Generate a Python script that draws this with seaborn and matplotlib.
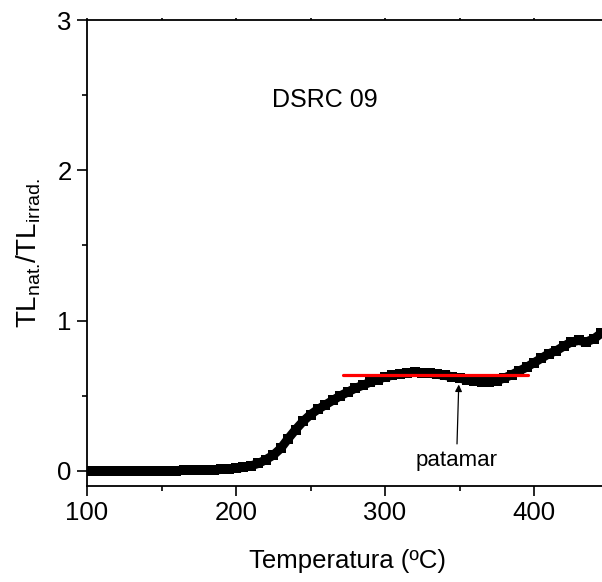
import matplotlib
matplotlib.use("Agg")
import matplotlib.pyplot as plt
import seaborn as sns
import numpy as np
import pandas as pd
from matplotlib.ticker import MultipleLocator

# ---- data ----
temperature = [100, 105, 110, 115, 120, 125, 130, 135, 140, 145,
               150, 155, 160, 165, 170, 175, 180, 185, 190, 195,
               200, 205, 210, 215, 220, 225, 230, 235, 240, 245,
               250, 255, 260, 265, 270, 275, 280, 285, 290, 295,
               300, 305, 310, 315, 320, 325, 330, 335, 340, 345,
               350, 355, 360, 365, 370, 375, 380, 385, 390, 395,
               400, 405, 410, 415, 420, 425, 430, 435, 440, 445]
tl_ratio = [0.000, 0.000, 0.000, 0.000, 0.000, 0.000, 0.000, 0.000, 0.000, 0.002,
            0.002, 0.003, 0.003, 0.004, 0.004, 0.005, 0.006, 0.007, 0.010, 0.013,
            0.018, 0.024, 0.034, 0.050, 0.075, 0.105, 0.150, 0.215, 0.275, 0.330,
            0.375, 0.410, 0.440, 0.470, 0.500, 0.525, 0.550, 0.570, 0.590, 0.608,
            0.625, 0.637, 0.647, 0.653, 0.656, 0.654, 0.650, 0.643, 0.636, 0.627,
            0.617, 0.607, 0.600, 0.595, 0.594, 0.600, 0.618, 0.640, 0.665, 0.690,
            0.720, 0.750, 0.780, 0.800, 0.830, 0.858, 0.868, 0.858, 0.878, 0.915]
plateau_x = [272, 396]
plateau_y = [0.64, 0.64]
sample_label = "DSRC 09"
annot_label = "patamar"
annot_point = (349.5, 0.575)
annot_text = (348, 0.0)
x_label = "Temperatura (ºC)"
y_label = r"$\mathregular{TL_{nat.}\!/TL_{irrad.}}$"

sns.set_theme(style="ticks")
plt.rcParams["font.family"] = ["Liberation Sans", "DejaVu Sans"]
plt.rcParams["mathtext.fontset"] = "custom"
plt.rcParams["mathtext.rm"] = "Liberation Sans"
plt.rcParams["mathtext.it"] = "Liberation Sans"

W, H = 602, 582
fig = plt.figure(figsize=(W / 100, H / 100), dpi=100)
left, right, top, bottom = 87, 608.5, 20, 486
ax = fig.add_axes([left / W, (H - bottom) / H, (right - left) / W, (bottom - top) / H])

df = pd.DataFrame({"T": temperature, "R": tl_ratio})
sns.lineplot(data=df, x="T", y="R", ax=ax, color="black", lw=6.5,
             marker="s", markersize=7, markeredgewidth=0, clip_on=True)
sns.lineplot(x=plateau_x, y=plateau_y, ax=ax, color="#ff0000", lw=2.3)

ax.set_xlim(100, 450)
ax.set_ylim(-0.1, 3)
ax.xaxis.set_major_locator(MultipleLocator(100))
ax.xaxis.set_minor_locator(MultipleLocator(50))
ax.yaxis.set_major_locator(MultipleLocator(1))
ax.yaxis.set_minor_locator(MultipleLocator(0.5))

for s in ax.spines.values():
    s.set_linewidth(1.3)
    s.set_color("black")
ax.spines["right"].set_visible(False)

ax.tick_params(axis="both", which="major", direction="out", length=7, width=1.2,
               labelsize=18.5, colors="black", pad=4)
ax.tick_params(axis="both", which="minor", direction="out", length=3.5, width=1.2,
               colors="black")
ax.tick_params(axis="x", which="both", top=True, labeltop=False)
for t in ax.xaxis.get_major_ticks() + ax.xaxis.get_minor_ticks():
    t.tick2line.set_markersize(1.5)

ax.set_xlabel(x_label, fontsize=18.5, labelpad=17, color="black")
ax.set_ylabel(y_label, fontsize=20, labelpad=10, color="black")

ax.text(259.5, 2.47, sample_label, fontsize=18, ha="center", va="center", color="black")
ax.annotate(annot_label, xy=annot_point, xytext=annot_text, fontsize=16,
            ha="center", va="bottom", color="black",
            arrowprops=dict(arrowstyle="-|>", color="black", lw=0.9,
                            mutation_scale=10, shrinkA=2, shrinkB=0))

fig.savefig("out.png", dpi=100)
